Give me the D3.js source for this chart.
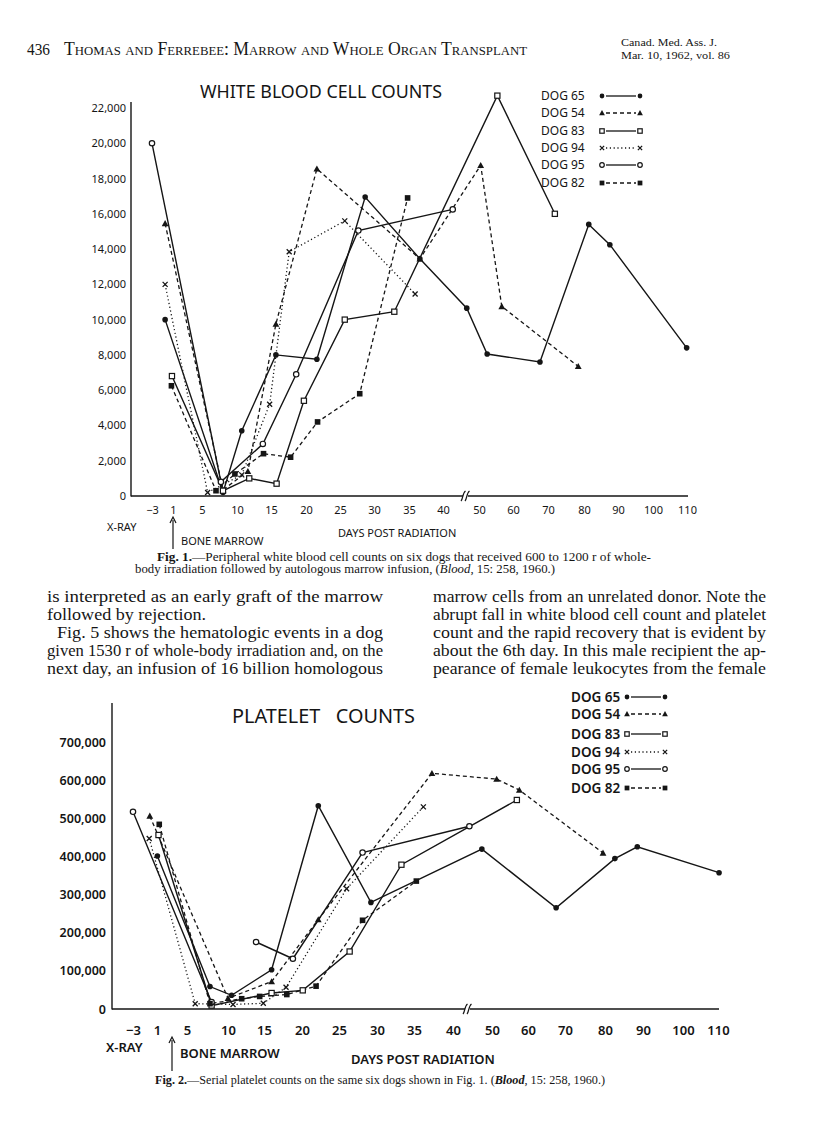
<!DOCTYPE html>
<html>
<head>
<meta charset="utf-8">
<script src="https://cdn.jsdelivr.net/npm/d3@7"></script>
<style>
body { margin: 0; background: #fff; }
svg { display: block; }
</style>
</head>
<body>
<script>
const width = 816;
const height = 1143;

const INK = "#151515";
const LETTER = "'Noto Sans', 'DejaVu Sans', sans-serif";
const SERIF = "'Liberation Serif', 'DejaVu Serif', serif";

// shared x tick labels (days post radiation)
const dayTicks = [-3, 1, 5, 10, 15, 20, 25, 30, 35, 40, 50, 60, 70, 80, 90, 100, 110];
const dogs = ["DOG 65", "DOG 54", "DOG 83", "DOG 94", "DOG 95", "DOG 82"];
const markers = ["dot", "tri", "sq", "x", "circ", "fsq"];
const dashes = ["solid", "dash", "solid", "dot", "solid", "dash"];

// Fig. 1 white blood cell counts, [day, count]
const wbcTicks = [0, 2000, 4000, 6000, 8000, 10000, 12000, 14000, 16000, 18000, 20000, 22000];
const wbc65 = [[-0.5, 10000], [8, 200], [10.7, 3700], [15.7, 8000], [21.6, 7750], [28.7, 16950], [36.6, 13450], [46.6, 10650], [52.4, 8050], [67.7, 7600], [81.4, 15400], [87.6, 14250], [109.9, 8400]];
const wbc54 = [[-0.5, 15450], [8, 350], [11.6, 1400], [15.7, 9750], [21.6, 18550], [36.6, 13450], [50.5, 18750], [56.7, 10750], [78.4, 7350]];
const wbc83 = [[0.8, 6800], [8, 300], [11.8, 1000], [15.8, 700], [19.7, 5400], [25.7, 10000], [32.9, 10450], [55.4, 22700], [71.9, 16000]];
const wbc94 = [[-0.5, 12000], [5.8, 200], [10.7, 1200], [14.8, 5200], [17.6, 13850], [25.7, 15600], [35.9, 11450]];
const wbc95 = [[-3, 20000], [7.7, 800], [13.8, 2950], [18.6, 6900], [27.7, 15050], [42.7, 16250]];
const wbc82 = [[0.7, 6250], [7, 300], [9.7, 1250], [13.9, 2400], [17.8, 2200], [21.7, 4200], [27.9, 5800], [34.8, 16900]];

// Fig. 2 platelet counts, [day, count]; null = gap in the line
const pltTicks = [0, 100000, 200000, 300000, 400000, 500000, 600000, 700000];
const plt65 = [[1.05, 402000], [7.8, 59000], [10.5, 36000], [16, 103000], [22.2, 534000], [29.2, 280000], [47.4, 420000], [67.6, 266000], [82.6, 395000], [88.5, 426000], [110.3, 358000]];
const plt54 = [[-0.2, 507000], [10, 28000], [16, 72000], [22.2, 235000], [37.3, 619000], [51.3, 604000], [57.6, 575000], [79.5, 410000]];
const plt83 = [[1.2, 457000], [8, 9000], [16, 42000], [20.1, 49000], [26.4, 151000], [33.3, 379000], [56.9, 549000]];
const plt94 = [[-0.3, 448000], [6, 14000], [10.7, 12000], [14.9, 15000], [17.9, 57000], [26, 316000], [36.2, 531000]];
const plt95 = [[-3, 518000], [8, 18000], null, [13.9, 176000], [18.8, 132000], [28.1, 411000], [44.2, 480000]];
const plt82 = [[1.3, 485000], [7.8, 14000], [11.9, 27000], [14.4, 33000], [18, 38000], [21.9, 60000], [28.1, 233000], [35.3, 336000]];

const svg = d3.select("body")
	.append("svg")
	.attr("width", width)
	.attr("height", height);

function dashArray(kind) {
	if (kind === "dash") return "4,3";
	if (kind === "dot") return "1.2,2.6";
	return null;
}

function marker(g, type, cx, cy, s) {
	if (type === "dot") {
		g.append("circle").attr("cx", cx).attr("cy", cy).attr("r", 2.8 * s).attr("fill", INK);
	} else if (type === "circ") {
		g.append("circle").attr("cx", cx).attr("cy", cy).attr("r", 2.7 * s)
			.attr("fill", "#fff").attr("stroke", INK).attr("stroke-width", 1.2);
	} else if (type === "sq") {
		g.append("rect").attr("x", cx - 2.6 * s).attr("y", cy - 2.6 * s)
			.attr("width", 5.2 * s).attr("height", 5.2 * s)
			.attr("fill", "#fff").attr("stroke", INK).attr("stroke-width", 1.2);
	} else if (type === "fsq") {
		g.append("rect").attr("x", cx - 2.8 * s).attr("y", cy - 2.8 * s)
			.attr("width", 5.6 * s).attr("height", 5.6 * s).attr("fill", INK);
	} else if (type === "tri") {
		const r = 3.4 * s;
		g.append("path")
			.attr("d", `M${cx},${cy - r}L${cx + r},${cy + r * 0.8}L${cx - r},${cy + r * 0.8}Z`)
			.attr("fill", INK);
	} else if (type === "x") {
		const r = 2.5 * s;
		g.append("path")
			.attr("d", `M${cx - r},${cy - r}L${cx + r},${cy + r}M${cx + r},${cy - r}L${cx - r},${cy + r}`)
			.attr("stroke", INK).attr("stroke-width", 1.3).attr("fill", "none");
	}
}

function drawChart(o) {
	const g = svg.append("g");
	const x = d3.scaleLinear().domain(dayTicks).range(o.xRange);
	const y = d3.scaleLinear().domain([0, o.yMax]).range([o.y0, o.y1]);

	// y axis
	const ya = g.append("g")
		.attr("transform", `translate(${o.ax},0)`)
		.call(d3.axisLeft(y).tickValues(o.yTicks).tickSize(0).tickPadding(o.yPad).tickFormat(d3.format(",")));
	ya.select(".domain").remove();
	ya.selectAll("text")
		.attr("font-family", LETTER)
		.attr("font-size", o.yFont)
		.attr("font-weight", o.weight)
		.attr("fill", INK);
	g.append("line")
		.attr("x1", o.ax).attr("x2", o.ax)
		.attr("y1", o.yTop).attr("y2", o.y0 + 0.5)
		.attr("stroke", INK).attr("stroke-width", 1.4);

	// x axis, broken between 40 and 50
	const xa = g.append("g")
		.attr("transform", `translate(0,${o.y0})`)
		.call(d3.axisBottom(x).tickValues(dayTicks).tickSize(0).tickPadding(o.xPad));
	xa.select(".domain").remove();
	xa.selectAll("text")
		.attr("font-family", LETTER)
		.attr("font-size", o.xFont)
		.attr("font-weight", o.weight)
		.attr("fill", INK);
	g.append("line")
		.attr("x1", o.ax).attr("x2", o.brk - 2)
		.attr("y1", o.y0).attr("y2", o.y0)
		.attr("stroke", INK).attr("stroke-width", 1.6);
	g.append("line")
		.attr("x1", o.brk + 3).attr("x2", o.xEnd)
		.attr("y1", o.y0).attr("y2", o.y0)
		.attr("stroke", INK).attr("stroke-width", 1.6);
	[-1.5, 2.5].forEach(function (k) {
		const bx = o.brk + k;
		g.append("path")
			.attr("d", `M${bx - 2.5},${o.y0 + 5} C${bx - 0.5},${o.y0 + 3} ${bx - 1},${o.y0 - 3} ${bx + 2},${o.y0 - 5}`)
			.attr("fill", "none").attr("stroke", INK).attr("stroke-width", 1.2);
	});

	// title
	g.append("text")
		.attr("x", o.titleX).attr("y", o.titleY)
		.attr("font-family", LETTER)
		.attr("font-size", o.titleFont)
		.attr("textLength", o.titleLen)
		.attr("lengthAdjust", "spacingAndGlyphs")
		.attr("fill", INK)
		.attr("xml:space", "preserve")
		.text(o.title);

	// series lines then markers
	const lineGen = d3.line()
		.defined(function (d) { return d != null; })
		.x(function (d) { return x(d[0]); })
		.y(function (d) { return y(d[1]); });

	o.series.forEach(function (s, i) {
		g.append("path")
			.attr("d", lineGen(s))
			.attr("fill", "none")
			.attr("stroke", INK)
			.attr("stroke-width", dashes[i] === "solid" ? 1.4 : 1.3)
			.attr("stroke-dasharray", dashArray(dashes[i]));
	});
	o.series.forEach(function (s, i) {
		s.filter(function (d) { return d != null; }).forEach(function (d) {
			marker(g, markers[i], x(d[0]), y(d[1]), 1);
		});
	});

	// legend
	dogs.forEach(function (name, i) {
		const ly = o.legY[i];
		g.append("text")
			.attr("x", o.legX).attr("y", ly + o.legFont * 0.36)
			.attr("font-family", LETTER)
			.attr("font-size", o.legFont)
			.attr("font-weight", o.weight)
			.attr("fill", INK)
			.text(name);
		g.append("line")
			.attr("x1", o.legM[0] + 4).attr("x2", o.legM[1] - 4)
			.attr("y1", ly).attr("y2", ly)
			.attr("stroke", INK).attr("stroke-width", 1.3)
			.attr("stroke-dasharray", dashArray(dashes[i]));
		marker(g, markers[i], o.legM[0], ly, 0.85);
		marker(g, markers[i], o.legM[1], ly, 0.85);
	});

	// x-ray / bone marrow notes and axis title
	const lab = function (tx, ty, str, fs) {
		g.append("text")
			.attr("x", tx).attr("y", ty)
			.attr("font-family", LETTER)
			.attr("font-size", fs)
			.attr("font-weight", o.weight)
			.attr("fill", INK)
			.text(str);
	};
	lab(o.xrayX, o.xrayY, "X-RAY", o.noteFont);
	lab(o.arrowX + 8, o.boneY, "BONE MARROW", o.noteFont);
	lab(o.daysX, o.daysY, "DAYS POST RADIATION", o.noteFont);
	g.append("line")
		.attr("x1", o.arrowX).attr("x2", o.arrowX)
		.attr("y1", o.arrowY[0] + 3).attr("y2", o.arrowY[1])
		.attr("stroke", INK).attr("stroke-width", 1.2);
	g.append("path")
		.attr("d", `M${o.arrowX - 3},${o.arrowY[0] + 6}L${o.arrowX},${o.arrowY[0]}L${o.arrowX + 3},${o.arrowY[0] + 6}`)
		.attr("fill", "none").attr("stroke", INK).attr("stroke-width", 1.2);
	return g;
}

// ---- header ----
svg.append("text")
	.attr("x", 27).attr("y", 55)
	.attr("font-family", SERIF).attr("font-size", 17.5).attr("fill", INK)
	.attr("textLength", 23).attr("lengthAdjust", "spacingAndGlyphs")
	.text("436");
svg.append("text")
	.attr("x", 64).attr("y", 55)
	.attr("font-family", SERIF).attr("font-size", 18).attr("fill", INK)
	.attr("style", "font-variant: small-caps")
	.attr("textLength", 463).attr("lengthAdjust", "spacingAndGlyphs")
	.text("Thomas and Ferrebee:  Marrow and Whole Organ Transplant");
svg.append("text")
	.attr("x", 621).attr("y", 46)
	.attr("font-family", SERIF).attr("font-size", 10.5).attr("fill", INK)
	.attr("textLength", 96).attr("lengthAdjust", "spacingAndGlyphs")
	.text("Canad. Med. Ass. J.");
svg.append("text")
	.attr("x", 621).attr("y", 58.5)
	.attr("font-family", SERIF).attr("font-size", 10.5).attr("fill", INK)
	.attr("textLength", 109).attr("lengthAdjust", "spacingAndGlyphs")
	.text("Mar. 10, 1962, vol. 86");

// ---- Fig. 1 ----
drawChart({
	series: [wbc65, wbc54, wbc83, wbc94, wbc95, wbc82],
	xRange: [152, 173, 202, 237, 271, 306, 340, 374, 409, 443, 479, 513, 548, 584, 618, 653, 687],
	yMax: 22000, yTicks: wbcTicks, y0: 496, y1: 108, yTop: 102,
	ax: 131, brk: 465, xEnd: 688,
	yPad: 5, xPad: 10, yFont: 11, xFont: 11, weight: 400,
	title: "WHITE BLOOD CELL COUNTS", titleX: 200, titleY: 98, titleFont: 18, titleLen: 242,
	legX: 541, legM: [602, 640], legY: [96, 113, 131, 148, 165, 183], legFont: 12,
	xrayX: 107, xrayY: 531, arrowX: 173, arrowY: [517, 549], boneY: 545,
	daysX: 338, daysY: 537, noteFont: 11
});

// ---- Fig. 1 caption ----
const cap1 = svg.append("text").attr("font-family", SERIF).attr("font-size", 11.5).attr("fill", INK);
cap1.append("tspan").attr("x", 157).attr("y", 561).attr("textLength", 494).attr("lengthAdjust", "spacingAndGlyphs")
	.html("<tspan font-weight='bold'>Fig. 1.</tspan>—Peripheral white blood cell counts on six dogs that received 600 to 1200 r of whole-");
const cap1b = svg.append("text").attr("font-family", SERIF).attr("font-size", 11.5).attr("fill", INK)
	.attr("x", 135).attr("y", 573).attr("textLength", 420).attr("lengthAdjust", "spacingAndGlyphs");
cap1b.append("tspan").text("body irradiation followed by autologous marrow infusion, (");
cap1b.append("tspan").attr("font-style", "italic").text("Blood");
cap1b.append("tspan").text(", 15: 258, 1960.)");

// ---- body text, two justified columns ----
const leftCol = [
	["is interpreted as an early graft of the marrow", 47, 383],
	["followed by rejection.", 47, 206],
	["Fig. 5 shows the hematologic events in a dog", 57, 383],
	["given 1530 r of whole-body irradiation and, on the", 47, 383],
	["next day, an infusion of 16 billion homologous", 47, 383]
];
const rightCol = [
	["marrow cells from an unrelated donor. Note the", 433, 766],
	["abrupt fall in white blood cell count and platelet", 433, 766],
	["count and the rapid recovery that is evident by", 433, 766],
	["about the 6th day. In this male recipient the ap-", 433, 766],
	["pearance of female leukocytes from the female", 433, 766]
];
[leftCol, rightCol].forEach(function (col) {
	col.forEach(function (ln, i) {
		svg.append("text")
			.attr("x", ln[1]).attr("y", 602 + i * 18)
			.attr("font-family", SERIF).attr("font-size", 16).attr("fill", INK)
			.attr("textLength", ln[2] - ln[1]).attr("lengthAdjust", "spacingAndGlyphs")
			.text(ln[0]);
	});
});

// ---- Fig. 2 ----
drawChart({
	series: [plt65, plt54, plt83, plt94, plt95, plt82],
	xRange: [133, 157, 187, 228, 264, 302, 339, 377, 414, 453, 492, 528, 565, 605, 643, 683, 718],
	yMax: 700000, yTicks: pltTicks, y0: 1009, y1: 742.5, yTop: 703,
	ax: 112, brk: 467, xEnd: 719,
	yPad: 6, xPad: 17, yFont: 12.5, xFont: 13, weight: 600,
	title: "PLATELET   COUNTS", titleX: 232, titleY: 723, titleFont: 20, titleLen: 183,
	legX: 571, legM: [627, 665], legY: [697, 714, 734, 752, 769, 788], legFont: 13.5,
	xrayX: 106, xrayY: 1052, arrowX: 172, arrowY: [1037, 1071], boneY: 1058,
	daysX: 351, daysY: 1064, noteFont: 13
});

// ---- Fig. 2 caption ----
const cap2 = svg.append("text").attr("font-family", SERIF).attr("font-size", 11.5).attr("fill", INK)
	.attr("x", 155).attr("y", 1084).attr("textLength", 450).attr("lengthAdjust", "spacingAndGlyphs");
cap2.append("tspan").attr("font-weight", "bold").text("Fig. 2.");
cap2.append("tspan").text("—Serial platelet counts on the same six dogs shown in Fig. 1. (");
cap2.append("tspan").attr("font-style", "italic").attr("font-weight", "bold").text("Blood");
cap2.append("tspan").text(", 15: 258, 1960.)");
</script>
</body>
</html>
